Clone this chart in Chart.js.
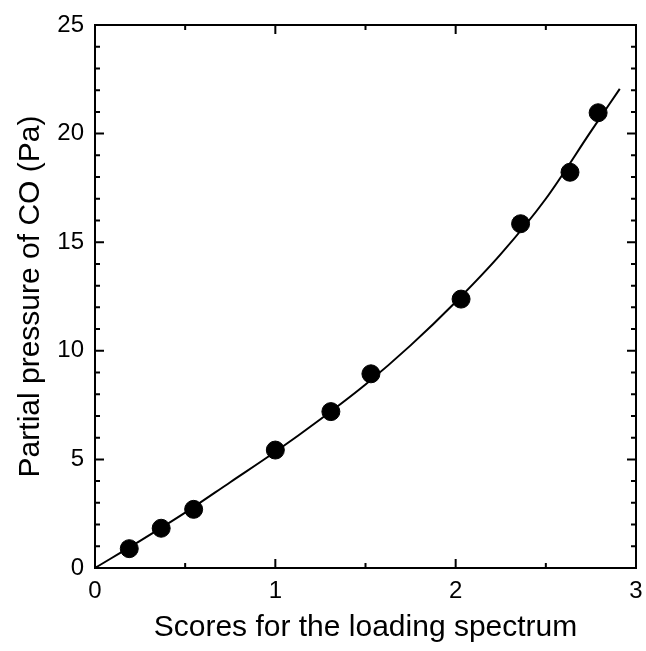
<!DOCTYPE html>
<html>
<head>
<meta charset="utf-8">
<script src="https://cdn.jsdelivr.net/npm/chart.js@4/dist/chart.umd.min.js"></script>
<style>
  html, body { margin: 0; padding: 0; background: #fff; }
  canvas { display: block; }
</style>
</head>
<body>
<canvas id="coChart" width="646" height="651"></canvas>
<script>
// measured points (score, CO partial pressure in Pa)
const scores = [0.19, 0.367, 0.547, 1.0, 1.308, 1.53, 2.03, 2.36, 2.634, 2.79];
const pressures = [0.89, 1.83, 2.70, 5.43, 7.20, 8.94, 12.38, 15.85, 18.22, 20.96];

// fitted curve
const fitX = [0, 0.25, 0.5, 0.75, 1.0, 1.25, 1.5, 1.75, 2.0, 2.25, 2.5, 2.75, 2.91];
const fitY = [0, 1.25, 2.55, 3.95, 5.35, 6.85, 8.45, 10.25, 12.25, 14.45, 17.0, 20.1, 22.06];

// axis ticks
const xMajor = [0, 1, 2, 3];
const xMinor = [0.5, 1.5, 2.5];
const yMajor = [0, 5, 10, 15, 20, 25];
const yMinor = [];
for (let v = 1; v < 25; v++) {
    if (v % 5 !== 0) yMinor.push(v);
}

const pointData = scores.map((x, i) => ({ x: x, y: pressures[i] }));
const fitData = fitX.map((x, i) => ({ x: x, y: fitY[i] }));

// frame with inward ticks on all four sides
const framePlugin = {
    id: 'frame',
    afterDraw(chart) {
        const ctx = chart.ctx;
        const area = chart.chartArea;
        const xs = chart.scales.x;
        const ys = chart.scales.y;
        ctx.save();
        ctx.strokeStyle = '#000';
        ctx.lineWidth = 2;
        ctx.strokeRect(area.left, area.top, area.right - area.left, area.bottom - area.top);

        function xTick(v, len) {
            const px = xs.getPixelForValue(v);
            ctx.beginPath();
            ctx.moveTo(px, area.bottom);
            ctx.lineTo(px, area.bottom - len);
            ctx.moveTo(px, area.top);
            ctx.lineTo(px, area.top + len);
            ctx.stroke();
        }
        function yTick(v, len) {
            const py = ys.getPixelForValue(v);
            ctx.beginPath();
            ctx.moveTo(area.left, py);
            ctx.lineTo(area.left + len, py);
            ctx.moveTo(area.right, py);
            ctx.lineTo(area.right - len, py);
            ctx.stroke();
        }
        xMajor.forEach(v => xTick(v, 9));
        xMinor.forEach(v => xTick(v, 5));
        yMajor.forEach(v => yTick(v, 9));
        yMinor.forEach(v => yTick(v, 5));
        ctx.restore();
    }
};

function noEdgePadding(scale) {
    scale.paddingLeft = 0;
    scale.paddingRight = 0;
    scale.paddingTop = 0;
    scale.paddingBottom = 0;
}

const ctx = document.getElementById('coChart').getContext('2d');
const coChart = new Chart(ctx, {
    type: 'scatter',
    data: {
        datasets: [{
            label: 'Measured',
            data: pointData,
            backgroundColor: '#000',
            borderColor: '#000',
            pointRadius: 9,
            pointHoverRadius: 9
        }, {
            label: 'Fit',
            data: fitData,
            showLine: true,
            borderColor: '#000',
            borderWidth: 2,
            pointRadius: 0,
            cubicInterpolationMode: 'monotone'
        }]
    },
    options: {
        responsive: false,
        animation: false,
        layout: {
            padding: { top: 25, right: 10, left: 0, bottom: 0 }
        },
        plugins: {
            legend: { display: false },
            tooltip: { enabled: false }
        },
        scales: {
            x: {
                type: 'linear',
                min: 0,
                max: 3,
                afterFit: scale => { scale.height = 83; noEdgePadding(scale); },
                grid: { display: false, drawTicks: false },
                border: { display: false },
                ticks: {
                    stepSize: 1,
                    padding: 9,
                    color: '#000',
                    font: { family: 'Liberation Sans', size: 24 }
                },
                title: {
                    display: true,
                    text: 'Scores for the loading spectrum',
                    color: '#000',
                    padding: { top: 0, bottom: 5 },
                    font: { family: 'Liberation Sans', size: 30 }
                }
            },
            y: {
                type: 'linear',
                min: 0,
                max: 25,
                afterFit: scale => { scale.width = 95; noEdgePadding(scale); },
                grid: { display: false, drawTicks: false },
                border: { display: false },
                ticks: {
                    stepSize: 5,
                    padding: 11,
                    color: '#000',
                    font: { family: 'Liberation Sans', size: 24 }
                },
                title: {
                    display: true,
                    text: 'Partial pressure of CO (Pa)',
                    color: '#000',
                    padding: { top: 13, bottom: 0 },
                    font: { family: 'Liberation Sans', size: 30 }
                }
            }
        }
    },
    plugins: [framePlugin]
});
</script>
</body>
</html>
